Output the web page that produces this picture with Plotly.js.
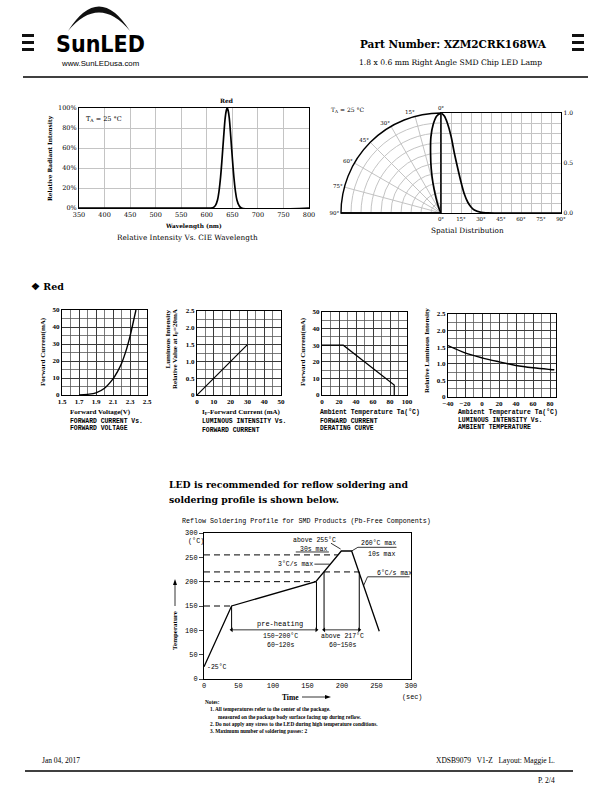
<!DOCTYPE html>
<html>
<head>
<meta charset="utf-8">
<script src="https://cdn.plot.ly/plotly-3.0.1.min.js"></script>
<style>
  html, body { margin: 0; padding: 0; background: #fff; }
  #page { width: 612px; height: 792px; }
</style>
</head>
<body>
<div id="page"></div>
<script>
'use strict';

// ---- data ----
const wavelength = [350, 600, 608, 613, 617, 621, 624, 627, 630, 633, 636, 638, 640, 642, 644, 647, 650, 653, 656, 659, 663, 668, 800];
const relIntensity = [0, 0, 0, 0.006, 0.026, 0.08, 0.17, 0.31, 0.5, 0.71, 0.9, 0.97, 1.0, 0.97, 0.9, 0.71, 0.5, 0.31, 0.17, 0.08, 0.026, 0, 0];

const spatialAngle = [0, 2.5, 5, 7.5, 10, 12.5, 15, 17.5, 20, 22.5, 25, 30, 35, 40, 50, 90];
const spatialIntensity = [1.0, 0.97, 0.89, 0.77, 0.6, 0.45, 0.31, 0.19, 0.11, 0.06, 0.03, 0.007, 0.002, 0, 0, 0];

const fwdVoltage = [1.7, 1.8, 1.9, 2.0, 2.1, 2.15, 2.2, 2.25, 2.3, 2.35, 2.37];
const fwdCurrent = [0, 0.4, 1.3, 4, 9.5, 13.5, 18.5, 25.5, 34.5, 45.5, 50];

const ifCurrent = [0, 30];
const ivRelative = [0, 1.5];

const deratingTemp = [0, 25, 85, 85];
const deratingCurrent = [30, 30, 6, 0];

const ambientTemp = [-40, -20, 0, 20, 40, 60, 80, 85];
const ambientIntensity = [1.55, 1.33, 1.18, 1.06, 0.95, 0.88, 0.83, 0.82];

const relTickVals = [0, 0.5, 1.0, 1.5, 2.0, 2.5];
const relTickText = ['0', '0.5', '1.0', '1.5', '2.0', '2.5'];

const reflowTime = [0, 40, 162, 199, 214, 254];
const reflowTemp = [25, 150, 200, 263, 263, 98];
const levelTemp = [150, 200, 220, 255];
const levelEnd = [40, 162, 225, 194];
const preheatTimes = [40, 163];
const preheatTops = [150, 200];
const above217Times = [174, 225];
const bracketBase = 101;

// ---- page helpers ----
const W = 612, H = 792;
const px = x => x / W;
const py = y => 1 - y / H;

const SERIF = '"DejaVu Serif", serif';
const TIMES = '"Liberation Serif", serif';
const MONO = '"Liberation Mono", monospace';
const SANS = '"Liberation Sans", Arial, sans-serif';

function txt(x, y, text, size, family, opts) {
    return Object.assign({
        xref: 'paper', yref: 'paper', x: px(x), y: py(y), text: text,
        showarrow: false, xanchor: 'center', yanchor: 'middle',
        font: { size: size, family: family, color: '#000' }
    }, opts || {});
}
function left(x, y, text, size, family, weight) {
    let a = txt(x, y, text, size, family, { xanchor: 'left' });
    if (weight) a.font.weight = weight;
    return a;
}
function bold(a) { a.font.weight = 'bold'; return a; }

function frame(domain, range, extra) {
    return Object.assign({
        domain: domain, range: range, showline: true, linecolor: '#000', linewidth: 1,
        mirror: true, zeroline: false, ticks: '', fixedrange: true, showgrid: false
    }, extra);
}

const smallFont = { family: TIMES, size: 7, weight: 'bold' };
const darkGrid = { showgrid: true, gridcolor: '#3a3a3a', gridwidth: 1 };
function minorGrid(dtick, tick0) {
    return { dtick: dtick, tick0: tick0 || 0, showgrid: true, gridcolor: '#5a5a5a', gridwidth: 0.8, ticks: '' };
}

const black = { color: '#000', width: 1.5 };

let data = [
    { x: wavelength, y: relIntensity, xaxis: 'x', yaxis: 'y', mode: 'lines',
      line: { color: '#000', width: 1.7, shape: 'spline' } },
    { x: spatialAngle, y: spatialIntensity, xaxis: 'x2', yaxis: 'y2', mode: 'lines',
      line: { color: '#000', width: 1.7, shape: 'spline' } },
    { type: 'scatterpolar', r: spatialIntensity, theta: spatialAngle, subplot: 'polar', mode: 'lines',
      line: { color: '#000', width: 1.7, shape: 'spline' } },
    { x: fwdVoltage, y: fwdCurrent, xaxis: 'x3', yaxis: 'y3', mode: 'lines',
      line: { color: '#000', width: 1.4, shape: 'spline' } },
    { x: ifCurrent, y: ivRelative, xaxis: 'x4', yaxis: 'y4', mode: 'lines',
      line: { color: '#000', width: 1.2 } },
    { x: deratingTemp, y: deratingCurrent, xaxis: 'x5', yaxis: 'y5', mode: 'lines',
      line: { color: '#000', width: 1.2 } },
    { x: ambientTemp, y: ambientIntensity, xaxis: 'x6', yaxis: 'y6', mode: 'lines',
      line: { color: '#000', width: 1.4, shape: 'spline' } },
    { x: reflowTime, y: reflowTemp, xaxis: 'x7', yaxis: 'y7', mode: 'lines',
      line: { color: '#000', width: 1.3 } }
];

// dashed temperature levels
levelTemp.forEach((t, i) => {
    data.push({ x: [0, levelEnd[i]], y: [t, t], xaxis: 'x7', yaxis: 'y7', mode: 'lines',
        line: { color: '#000', width: 1, dash: '6px,4px' } });
});
// bracket verticals
preheatTimes.forEach((t, i) => {
    data.push({ x: [t, t], y: [preheatTops[i], bracketBase], xaxis: 'x7', yaxis: 'y7', mode: 'lines',
        line: { color: '#000', width: 1 } });
});
above217Times.forEach(t => {
    data.push({ x: [t, t], y: [levelTemp[2], bracketBase], xaxis: 'x7', yaxis: 'y7', mode: 'lines',
        line: { color: '#000', width: 1 } });
});
// double-headed spans
[preheatTimes, above217Times].forEach(span => {
    data.push({ x: span, y: [bracketBase, bracketBase], xaxis: 'x7', yaxis: 'y7', mode: 'lines+markers',
        line: { color: '#000', width: 0.8 },
        marker: { symbol: ['triangle-left', 'triangle-right'], size: 4, color: '#000' } });
});

const lightGrid = '#c4c4c4';

const layout = {
    width: W, height: H,
    margin: { l: 0, r: 0, t: 0, b: 0 },
    paper_bgcolor: '#fff', plot_bgcolor: 'rgba(0,0,0,0)',
    showlegend: false, hovermode: false,
    font: { family: SERIF, color: '#000' },

    // relative intensity vs wavelength
    xaxis: frame([px(79), px(309)], [350, 800], { anchor: 'y', tick0: 350, dtick: 50,
        showgrid: true, gridcolor: lightGrid, tickfont: { family: SERIF, size: 6.5 } }),
    yaxis: frame([py(208), py(108)], [0, 1], { anchor: 'x', dtick: 0.2, tickformat: '.0%',
        showgrid: true, gridcolor: lightGrid, tickfont: { family: SERIF, size: 6.5 } }),

    // spatial distribution (cartesian half)
    xaxis2: frame([px(441), px(561)], [0, 90], { anchor: 'y2', tick0: 0, dtick: 15, ticksuffix: '°',
        showgrid: true, gridcolor: lightGrid, linewidth: 1.4,
        minor: { dtick: 7.5, tick0: 0, showgrid: true, gridcolor: lightGrid, ticks: '' },
        tickfont: { family: SERIF, size: 5.5 } }),
    yaxis2: frame([py(213), py(113)], [0, 1], { anchor: 'x2', side: 'right', tick0: 0, dtick: 0.5,
        tickformat: '.1f', showgrid: true, gridcolor: lightGrid, linewidth: 1.4,
        minor: { dtick: 0.1, tick0: 0, showgrid: true, gridcolor: lightGrid, ticks: '' },
        tickfont: { family: SERIF, size: 6 } }),

    polar: {
        domain: { x: [px(341), px(441)], y: [py(213), py(113)] },
        sector: [90, 180],
        bgcolor: 'rgba(0,0,0,0)',
        angularaxis: { rotation: 90, direction: 'counterclockwise', tickmode: 'linear', tick0: 0, dtick: 15,
            ticksuffix: '°', showgrid: true, gridcolor: lightGrid, showline: true, linecolor: '#000',
            linewidth: 1.4, ticks: '', tickfont: { family: SERIF, size: 5.5 } },
        radialaxis: { range: [0, 1], tickmode: 'linear', tick0: 0, dtick: 0.1, showticklabels: false,
            ticks: '', gridcolor: lightGrid, showline: true, linecolor: '#000', linewidth: 1.4, angle: 180 }
    },

    // forward current vs forward voltage
    xaxis3: frame([px(62), px(147)], [1.5, 2.5], Object.assign({ anchor: 'y3', tick0: 1.5, dtick: 0.2,
        minor: minorGrid(0.1, 1.5), tickfont: smallFont }, darkGrid)),
    yaxis3: frame([py(395), py(310)], [0, 50], Object.assign({ anchor: 'x3', dtick: 10,
        minor: minorGrid(5), tickfont: smallFont }, darkGrid)),

    // luminous intensity vs forward current
    xaxis4: frame([px(197), px(281)], [0, 50], Object.assign({ anchor: 'y4', dtick: 10,
        minor: minorGrid(5), tickfont: smallFont }, darkGrid)),
    yaxis4: frame([py(395), py(311)], [0, 2.5], Object.assign({ anchor: 'x4', tickmode: 'array',
        tickvals: relTickVals, ticktext: relTickText, minor: minorGrid(0.25), tickfont: smallFont }, darkGrid)),

    // derating curve
    xaxis5: frame([px(322), px(407)], [0, 100], Object.assign({ anchor: 'y5', dtick: 20,
        minor: minorGrid(10), tickfont: smallFont }, darkGrid)),
    yaxis5: frame([py(395), py(312)], [0, 50], Object.assign({ anchor: 'x5', dtick: 10,
        minor: minorGrid(5), tickfont: smallFont }, darkGrid)),

    // luminous intensity vs ambient temperature
    xaxis6: frame([px(448), px(556)], [-40, 87], Object.assign({ anchor: 'y6', tick0: -40, dtick: 20,
        minor: minorGrid(10, -40), tickfont: smallFont }, darkGrid)),
    yaxis6: frame([py(397), py(314)], [0, 2.5], Object.assign({ anchor: 'x6', tickmode: 'array',
        tickvals: relTickVals, ticktext: relTickText, minor: minorGrid(0.25), tickfont: smallFont }, darkGrid)),

    // reflow profile
    xaxis7: frame([px(204), px(411)], [0, 300], { anchor: 'y7', dtick: 50,
        tickfont: { family: MONO, size: 7 } }),
    yaxis7: frame([py(679), py(533)], [0, 300], { anchor: 'x7', dtick: 50, ticks: 'outside', ticklen: 4,
        tickfont: { family: MONO, size: 7 } }),

    shapes: [],
    annotations: []
};

const S = layout.shapes, A = layout.annotations;

// header / footer rules
S.push({ type: 'line', xref: 'paper', yref: 'paper', x0: px(23), x1: px(588), y0: py(77), y1: py(77), line: black });
S.push({ type: 'line', xref: 'paper', yref: 'paper', x0: px(25), x1: px(573), y0: py(771), y1: py(771), line: black });
// side marks
[[22, 34], [572, 584]].forEach(([a, b]) => {
    [34, 41, 48].forEach(y => {
        S.push({ type: 'rect', xref: 'paper', yref: 'paper', x0: px(a), x1: px(b), y0: py(y), y1: py(y + 3),
            fillcolor: '#111', line: { width: 0 } });
    });
});
// logo arc
S.push({ type: 'path', xref: 'paper', yref: 'paper', fillcolor: '#111', line: { width: 0 },
    path: `M ${px(68)},${py(31)} Q ${px(99)},${py(-18)} ${px(130)},${py(31)} Q ${px(99)},${py(-6)} ${px(68)},${py(31)} Z` });

// axis arrows beside the reflow chart
function pline(x0, y0, x1, y1) {
    S.push({ type: 'line', xref: 'paper', yref: 'paper', x0: px(x0), y0: py(y0), x1: px(x1), y1: py(y1),
        line: { color: '#000', width: 0.8 } });
}
function ptri(pts) {
    S.push({ type: 'path', xref: 'paper', yref: 'paper', fillcolor: '#000', line: { width: 0 },
        path: 'M ' + pts.map(p => px(p[0]) + ',' + py(p[1])).join(' L ') + ' Z' });
}
pline(175, 606, 175, 584);
ptri([[175, 579], [173, 585], [177, 585]]);
pline(302, 697, 326, 697);
ptri([[331, 697], [325, 695], [325, 699]]);

// reflow leader lines
const lead = { color: '#000', width: 0.8 };
function seg(x0, y0, x1, y1) {
    S.push({ type: 'line', xref: 'x7', yref: 'y7', x0: x0, y0: y0, x1: x1, y1: y1, line: lead });
}
seg(184, 279, 198, 267);
seg(133, 261, 181, 261);
seg(214, 263, 223, 270.6);
seg(223, 270.6, 279, 270.6);
seg(160, 236, 182, 236);
seg(237, 210, 298, 210);
seg(237, 210, 231, 191);

// header text
A.push(bold(txt(100, 44, 'SunLED', 23, '"Liberation Sans Narrow", "DejaVu Sans Condensed", sans-serif')));
A.push(txt(100, 63, 'www.SunLEDusa.com', 7.8, SANS));
A.push(left(358, 44, 'Part Number: XZM2CRK168WA', 10.5, SERIF, 'bold'));
A.push(left(357, 62, '1.8 x 0.6 mm Right Angle SMD Chip LED Lamp', 7.6, SERIF));

// wavelength chart text
A.push(bold(txt(227, 101, 'Red', 6, SERIF)));
A.push(left(84, 119, 'T<sub>A</sub> = 25 °C', 6.5, SERIF));
A.push(bold(txt(50, 158, 'Relative Radiant Intensity', 5.8, SERIF, { textangle: -90 })));
A.push(bold(txt(193, 227, 'Wavelength (nm)', 5.8, SERIF)));
A.push(txt(187, 237, 'Relative Intensity Vs. CIE Wavelength', 7.3, SERIF));

// spatial text
A.push(left(329, 110, 'T<sub>A</sub> = 25 °C', 6, SERIF));
A.push(txt(468, 230, 'Spatial Distribution', 7.3, SERIF));

// Red section
A.push(left(29, 286, '❖ Red', 9.5, SERIF, 'bold'));

A.push(bold(txt(43, 352, 'Forward Current(mA)', 7, TIMES, { textangle: -90 })));
A.push(left(68, 412, 'Forward Voltage(V)', 7, TIMES, 'bold'));
A.push(left(68, 421, 'FORWARD CURRENT Vs.', 6.4, MONO, 'bold'));
A.push(left(68, 429, 'FORWARD VOLTAGE', 6.4, MONO, 'bold'));

A.push(bold(txt(167, 307, 'Luminous Intensity', 7, TIMES, { textangle: -90, yanchor: 'top' })));
A.push(bold(txt(175, 307, 'Relative Value at I<sub>F</sub>=20mA', 7, TIMES, { textangle: -90, yanchor: 'top' })));
A.push(left(200, 412, 'I<sub>F</sub>-Forward Current (mA)', 7, TIMES, 'bold'));
A.push(left(200, 421, 'LUMINOUS INTENSITY Vs.', 6.4, MONO, 'bold'));
A.push(left(200, 430, 'FORWARD CURRENT', 6.4, MONO, 'bold'));

A.push(bold(txt(303, 352, 'Forward Current(mA)', 7, TIMES, { textangle: -90 })));
A.push(left(318, 412, 'Ambient Temperature Ta(°C)', 6.4, MONO, 'bold'));
A.push(left(318, 421, 'FORWARD CURRENT', 6.4, MONO, 'bold'));
A.push(left(318, 429, 'DERATING CURVE', 6.4, MONO, 'bold'));

A.push(bold(txt(427, 351, 'Relative Luminous Intensity', 7, TIMES, { textangle: -90 })));
A.push(left(456, 412, 'Ambient Temperature Ta(°C)', 6.4, MONO, 'bold'));
A.push(left(456, 420, 'LUMINOUS INTENSITY Vs.', 6.4, MONO, 'bold'));
A.push(left(456, 427, 'AMBIENT TEMPERATURE', 6.4, MONO, 'bold'));

// reflow text
A.push(left(167, 484, 'LED is recommended for reflow soldering and', 9.3, SERIF, 'bold'));
A.push(left(167, 500, 'soldering profile is shown below.', 9.3, SERIF, 'bold'));
A.push(left(180, 521, 'Reflow Soldering Profile for SMD Products (Pb-Free Components)', 6.7, MONO));
A.push(txt(196, 541, '(°C)', 6.8, MONO));
A.push(bold(txt(175, 631, 'Temperature', 7, TIMES, { textangle: -90 })));
A.push(bold(txt(290, 697, 'Time', 7.5, TIMES)));
A.push(txt(412, 697, '(sec)', 6.8, MONO));
A.push(left(205, 667, '-25°C', 6.5, MONO));
A.push(txt(315, 540, 'above 255°C', 6.5, MONO));
A.push(txt(313, 549, '30s max', 6.5, MONO));
A.push(txt(378, 543, '260°C max', 6.5, MONO));
A.push(txt(381, 554, '10s max', 6.5, MONO));
A.push(txt(295, 564, '3°C/s max', 6.5, MONO));
A.push(txt(394, 573, '6°C/s max', 6.5, MONO));
A.push(txt(280, 624, 'pre-heating', 7, MONO));
A.push(txt(280, 636, '150~200°C', 6.5, MONO));
A.push(txt(280, 645, '60~120s', 6.5, MONO));
A.push(txt(342, 636, 'above 217°C', 6.5, MONO));
A.push(txt(342, 645, '60~150s', 6.5, MONO));

// notes
A.push(left(203, 702, 'Notes:', 5.3, TIMES, 'bold'));
A.push(left(208, 709, '1. All temperatures refer to the center of the package.', 5.3, TIMES, 'bold'));
A.push(left(216, 717, 'measured on the package body surface facing up during reflow.', 5.3, TIMES, 'bold'));
A.push(left(208, 724, '2. Do not apply any stress to the LED during high temperature conditions.', 5.3, TIMES, 'bold'));
A.push(left(208, 731, '3. Maximum number of soldering passes: 2', 5.3, TIMES, 'bold'));

// footer
A.push(left(40, 760, 'Jan 04, 2017', 7.5, TIMES));
A.push(txt(557, 760, 'XDSB9079\u00a0\u00a0\u00a0V1-Z\u00a0\u00a0\u00a0Layout: Maggie L.', 7.5, TIMES, { xanchor: 'right' }));
A.push(txt(557, 780, 'P. 2/4', 7.5, TIMES, { xanchor: 'right' }));

Plotly.newPlot('page', data, layout, { staticPlot: true, displayModeBar: false });
</script>
</body>
</html>
